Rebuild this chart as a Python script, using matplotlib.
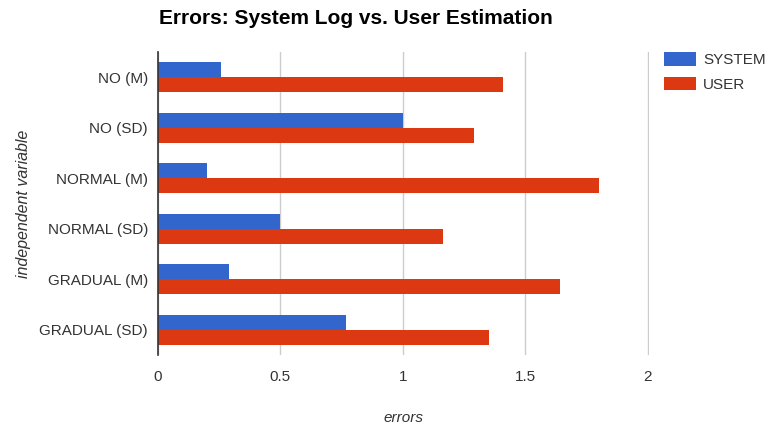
import matplotlib
matplotlib.use("Agg")
import matplotlib.pyplot as plt
import numpy as np

plt.rcParams['font.family'] = ['Liberation Sans', 'DejaVu Sans']

categories = ["NO (M)", "NO (SD)", "NORMAL (M)", "NORMAL (SD)", "GRADUAL (M)", "GRADUAL (SD)"]
system = [0.258, 1.0, 0.203, 0.5, 0.289, 0.769]
user = [1.41, 1.29, 1.80, 1.163, 1.642, 1.351]
xticks = [0, 0.5, 1, 1.5, 2]
xticklabels = ["0", "0.5", "1", "1.5", "2"]

fig = plt.figure(figsize=(7.68, 4.25), dpi=100)
ax = fig.add_axes([0.2053, 0.1647, 0.845 - 0.2053, 0.8776 - 0.1647])

y = np.arange(len(categories))
h = 0.3
ax.barh(y - h / 2, system, height=h, color="#3366CC", label="SYSTEM", zorder=3)
ax.barh(y + h / 2, user, height=h, color="#DC3912", label="USER", zorder=3)

ax.set_xlim(0, 2.004)
ax.set_ylim(len(categories) - 0.5, -0.5)
ax.set_xticks(xticks)
ax.set_xticklabels(xticklabels)
ax.set_yticks(y)
ax.set_yticklabels(categories)
ax.tick_params(axis='both', length=0, labelsize=11)
ax.tick_params(axis='x', pad=11)
ax.tick_params(axis='y', pad=7)
for lbl in ax.get_xticklabels() + ax.get_yticklabels():
    lbl.set_color("#333333")

ax.grid(axis='x', color="#CCCCCC", linewidth=1, zorder=0)
for s in ["top", "right", "bottom"]:
    ax.spines[s].set_visible(False)
ax.spines["left"].set_color("#333333")
ax.spines["left"].set_linewidth(1.2)
ax.spines["left"].set_zorder(4)

ax.set_xlabel("errors", fontstyle="italic", fontsize=11, color="#333333", labelpad=19)
ax.set_ylabel("independent variable", fontstyle="italic", fontsize=11.5, color="#333333", labelpad=6)

fig.text(0.463, 0.957, "Errors: System Log vs. User Estimation", ha="center", va="center",
         fontsize=15, fontweight="bold", color="#000000")

leg = fig.legend(loc="upper left", bbox_to_anchor=(0.8646, 0.877), frameon=False,
                 fontsize=11, handlelength=2.1, handleheight=1.0, handletextpad=0.45,
                 labelspacing=0.6, borderaxespad=0, borderpad=0)
for t in leg.get_texts():
    t.set_color("#333333")

fig.savefig("out.png", dpi=100)
